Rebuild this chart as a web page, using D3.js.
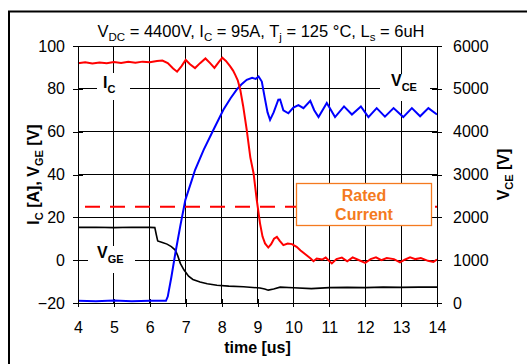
<!DOCTYPE html>
<html><head><meta charset="utf-8">
<script src="https://cdn.jsdelivr.net/npm/d3@7"></script>
<style>
html,body{margin:0;padding:0;background:#fff;}
svg{display:block;font-family:"Liberation Sans",Arial,sans-serif;}
</style></head>
<body>
<svg id="c" width="527" height="364"></svg>
<script>
// ---- data ----
const xTicks = [4,5,6,7,8,9,10,11,12,13,14];
const yLeftTicks = [-20,0,20,40,60,80,100];
const yRightTicks = [0,1000,2000,3000,4000,5000,6000];
const ratedCurrent = 25;

const icTime = [4.0,4.2,4.4,4.6,4.8,5.0,5.2,5.4,5.6,5.8,6.0,6.2,6.35,6.5,6.65,6.76,6.88,7.0,7.12,7.26,7.4,7.55,7.68,7.8,7.92,8.02,8.12,8.24,8.32,8.38,8.45,8.52,8.6,8.7,8.8,8.89,8.98,9.07,9.14,9.21,9.3,9.38,9.46,9.54,9.62,9.72,9.84,9.96,10.09,10.2,10.35,10.48,10.56,10.65,10.8,10.9,11.07,11.2,11.35,11.5,11.65,11.8,12.0,12.15,12.3,12.45,12.6,12.8,12.97,13.1,13.25,13.4,13.55,13.75,13.9,14.0];
const icValue = [92,92.4,91.8,92.3,92.0,92.5,92.1,92.6,92.2,92.7,92.4,93.0,93.2,92.0,89.5,88.0,90.5,93.5,91.5,89.7,92,94.2,92,89.8,92.5,94.5,93,90.5,88.5,86.5,84,79.6,72,60.8,48,40.6,28,17.2,11,7.8,5.9,7.5,10,10.9,9,7.0,7.8,7.5,6.2,4.5,2.5,0.8,-0.5,0.8,0.3,1.2,-1.5,0.5,1.2,-0.5,1.3,0.2,-1.3,0.5,1.3,0,1.0,0.5,-1.0,0.2,1.3,0.5,1.0,-0.3,-0.8,0.3];

const vceTime = [4.0,4.5,5.0,5.5,6.0,6.45,6.5,6.6,6.71,6.85,6.99,7.17,7.26,7.5,7.77,8.05,8.25,8.42,8.55,8.7,8.85,8.95,9.03,9.12,9.2,9.28,9.35,9.45,9.58,9.63,9.72,9.86,10.0,10.14,10.28,10.47,10.58,10.7,10.93,11.16,11.41,11.63,11.88,12.09,12.32,12.55,12.79,13.06,13.3,13.53,13.76,14.0];
const vceValue = [50,40,60,40,50,50,150,600,1155,1800,2405,2870,3105,3575,4040,4510,4780,4980,5100,5210,5260,5230,5290,5170,4800,4450,4275,4450,4745,4750,4500,4430,4560,4620,4550,4720,4500,4340,4670,4340,4590,4400,4590,4340,4550,4350,4550,4340,4550,4360,4550,4400];

const vgeTime = [4.0,4.5,5.0,5.5,6.0,6.14,6.18,6.22,6.35,6.48,6.6,6.71,6.78,6.85,6.95,7.08,7.2,7.4,7.6,7.87,8.2,8.61,9.07,9.2,9.3,9.45,9.63,10.0,10.5,11.0,11.5,12.0,12.5,13.0,13.5,14.0];
const vgeValue = [15.3,15.4,15.2,15.4,15.3,15.2,12,9.0,8.3,7.5,6.3,4.7,2,-1.5,-4.5,-7.5,-9,-10.2,-11.0,-11.7,-12.1,-12.4,-13.0,-13.5,-14,-13.5,-12.6,-12.9,-13.3,-12.8,-12.7,-12.8,-12.6,-12.7,-12.6,-12.6];

// ---- drawing ----
const svg = d3.select("#c");
const L=78, R=437, T=46, B=303;
const x = d3.scaleLinear().domain([4,14]).range([L,R]);
const yL = d3.scaleLinear().domain([-20,100]).range([B,T]);
const yR = d3.scaleLinear().domain([0,6000]).range([B,T]);

// outer frame
svg.append("path").attr("d",`M9,364 V11.5 H527`).attr("fill","none").attr("stroke","#000").attr("stroke-width",2);

// grid
const g = svg.append("g").attr("stroke","#000").attr("stroke-width",1).attr("shape-rendering","crispEdges");
xTicks.forEach(t=>g.append("line").attr("x1",x(t)).attr("x2",x(t)).attr("y1",T).attr("y2",B));
yLeftTicks.forEach(v=>g.append("line").attr("x1",L).attr("x2",R).attr("y1",yL(v)).attr("y2",yL(v)));

// axes
const fs = "16px";
const ax = svg.append("g").attr("transform",`translate(0,${B})`).call(d3.axisBottom(x).tickValues(xTicks).tickSize(4).tickPadding(15).tickFormat(d3.format("d")));
const ay = svg.append("g").attr("transform",`translate(${L},0)`).call(d3.axisLeft(yL).tickValues(yLeftTicks).tickSize(5).tickPadding(8).tickFormat(d3.format("d")));
const ayr = svg.append("g").attr("transform",`translate(${R},0)`).call(d3.axisRight(yR).tickValues(yRightTicks).tickSize(5).tickPadding(11).tickFormat(d3.format("d")));
[ax,ay,ayr].forEach(a=>{
  a.selectAll("text").attr("font-size",fs).attr("fill","#000").attr("font-family","Liberation Sans, Arial, sans-serif");
  a.select(".domain").remove();
  a.selectAll("line").attr("stroke","#000").attr("shape-rendering","crispEdges");
});
// ticks crossing axis
ax.selectAll(".tick line").attr("y1",-4);
ay.selectAll(".tick line").attr("x1",5);
ayr.selectAll(".tick line").attr("x1",-5);

// rated current dashed
svg.append("line").attr("x1",x(4)+7).attr("x2",x(14)).attr("y1",yL(ratedCurrent)).attr("y2",yL(ratedCurrent))
  .attr("stroke","#ff0000").attr("stroke-width",2).attr("stroke-dasharray","15,10");

// series
const line = (ys)=>d3.line().x(d=>x(d[0])).y(d=>ys(d[1]));
svg.append("path").datum(d3.zip(vgeTime,vgeValue)).attr("d",line(yL)).attr("fill","none").attr("stroke","#000").attr("stroke-width",1.6);
svg.append("path").datum(d3.zip(vceTime,vceValue)).attr("d",line(yR)).attr("fill","none").attr("stroke","#0000ff").attr("stroke-width",2);
svg.append("path").datum(d3.zip(icTime,icValue)).attr("d",line(yL)).attr("fill","none").attr("stroke","#ff0000").attr("stroke-width",2);

// plot frame
svg.append("rect").attr("x",L).attr("y",T).attr("width",R-L).attr("height",B-T).attr("fill","none").attr("stroke","#000").attr("stroke-width",1).attr("shape-rendering","crispEdges");

// annotation labels with white background
function annot(bx,by,bw,bh,tx,ty,main,sub){
  svg.append("rect").attr("x",bx).attr("y",by).attr("width",bw).attr("height",bh).attr("fill","#fff");
  const t = svg.append("text").attr("x",tx).attr("y",ty).attr("font-size","16px").attr("font-weight","bold").attr("fill","#000");
  t.append("tspan").text(main);
  t.append("tspan").attr("dy",5).attr("font-size","11px").text(sub);
}
annot(97,73,33,27,103,88,"I","C");
annot(380,74,50,27,391,86,"V","CE");
annot(88,246,47,27,97,258,"V","GE");

// Rated current box
svg.append("rect").attr("x",296.5).attr("y",183.5).attr("width",135).attr("height",42).attr("fill","#fff").attr("stroke","#f47a20").attr("stroke-width",1.3);
svg.append("text").attr("x",364).attr("y",201).attr("text-anchor","middle").attr("font-size","16px").attr("font-weight","bold").attr("fill","#f47a20").text("Rated");
svg.append("text").attr("x",364).attr("y",220).attr("text-anchor","middle").attr("font-size","16px").attr("font-weight","bold").attr("fill","#f47a20").text("Current");

// title
const title = svg.append("text").attr("x",261).attr("y",37).attr("text-anchor","middle").attr("font-size","16.5px").attr("fill","#000");
[["V",""],["DC","s"],[" = 4400V, I",""],["C","s"],[" = 95A, T",""],["j","s"],[" = 125 °C, L",""],["s","s"],[" = 6uH",""]].forEach(([s,k],i)=>{
  const ts = title.append("tspan").text(s);
  if(k==="s") ts.attr("font-size","11.5px").attr("dy",4);
  else if(i>0) ts.attr("dy",-4);
});

// x axis title
svg.append("text").attr("x",x(9)).attr("y",353).attr("text-anchor","middle").attr("font-size","16px").attr("font-weight","bold").text("time [us]");

// left axis title
const lt = svg.append("text").attr("transform",`translate(39,${(T+B)/2}) rotate(-90)`).attr("text-anchor","middle").attr("font-size","16px").attr("font-weight","bold");
lt.append("tspan").text("I");
lt.append("tspan").attr("font-size","11px").attr("dy",4).text("C");
lt.append("tspan").attr("dy",-4).text(" [A], V");
lt.append("tspan").attr("font-size","11px").attr("dy",4).text("GE");
lt.append("tspan").attr("dy",-4).text(" [V]");

// right axis title
const rt = svg.append("text").attr("transform",`translate(509,${(T+B)/2}) rotate(-90)`).attr("text-anchor","middle").attr("font-size","16px").attr("font-weight","bold");
rt.append("tspan").text("V");
rt.append("tspan").attr("font-size","11px").attr("dy",4).text("CE");
rt.append("tspan").attr("dy",-4).text(" [V]");
</script>
</body></html>
